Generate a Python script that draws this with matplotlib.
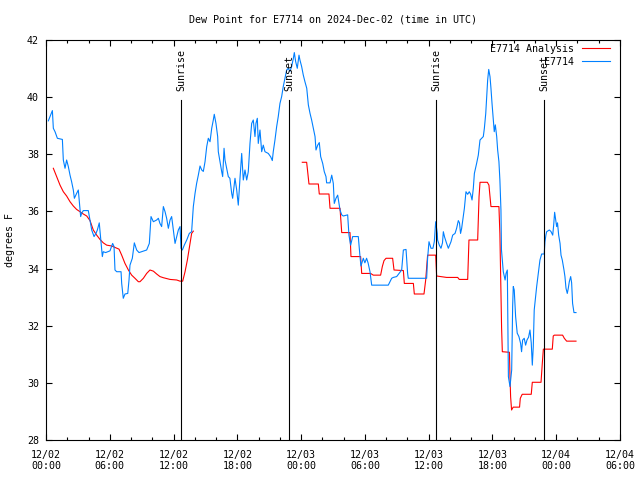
import numpy as np
import pandas as pd
import matplotlib
matplotlib.use('Agg')
import matplotlib.pyplot as plt
import matplotlib.dates as mdates

# --- Data (hours after 2024-12-02 00:00 UTC, degrees F) ---
START = pd.Timestamp('2024-12-02 00:00')

analysis_hours = [
    0.69, 1.0, 1.32, 1.63, 1.94, 2.26, 2.57, 2.88, 3.2, 3.51, 3.83, 4.14, 4.45, 4.77,
    5.08, 5.39, 5.71, 6.18, 6.49, 6.87, 7.12, 7.43, 7.75, 8.06, 8.37, 8.69, 8.84, 9.16,
    9.47, 9.78, 10.1, 10.41, 10.72, 11.04, 11.67, 12.3, 12.6, 12.86, 13.08, 13.3, 13.55,
    13.7, 13.86,
    19.0,
    24.11, 24.52, 24.6, 24.74, 25.62, 25.71, 26.62, 26.72, 27.66, 27.75, 27.82, 28.6,
    28.69, 29.6, 29.7, 30.54, 30.79, 31.48, 31.64, 31.8, 31.99, 32.61, 32.74, 33.62,
    33.71, 34.56, 34.65, 35.56, 35.72, 35.9, 36.66, 36.75, 37.69, 38.73, 38.88, 39.67,
    39.73, 39.79, 40.61, 40.74, 40.83, 41.52, 41.67, 41.77, 41.86, 42.61, 42.7, 42.86,
    42.93, 43.6, 43.65, 43.71, 43.8, 43.95, 44.55, 44.62, 44.8, 45.65, 45.75, 46.57,
    46.69, 46.79, 47.63, 47.72, 47.82, 48.6, 48.76, 48.98, 49.86,
]
analysis_values = [
    37.51, 37.22, 36.92, 36.69, 36.54, 36.34, 36.19, 36.07, 35.99, 35.91, 35.84, 35.68,
    35.35, 35.17, 35.02, 34.9, 34.82, 34.79, 34.74, 34.68, 34.47, 34.18, 33.95, 33.77,
    33.66, 33.54, 33.54, 33.66, 33.83, 33.95, 33.91, 33.81, 33.72, 33.68, 33.62, 33.6,
    33.56, 33.56, 33.89, 34.3, 34.88, 35.23, 35.31,
    np.nan,
    37.72, 37.72, 37.45, 36.96, 36.96, 36.61, 36.61, 36.11, 36.11, 35.64, 35.26, 35.26,
    34.42, 34.42, 33.83, 33.83, 33.77, 33.77, 34.07, 34.28, 34.36, 34.36, 33.95, 33.93,
    33.48, 33.48, 33.11, 33.11, 33.6, 34.47, 34.47, 33.74, 33.69, 33.69, 33.62, 33.62,
    34.3, 35.0, 35.0, 36.52, 37.02, 37.02, 36.92, 36.52, 36.17, 36.17, 35.23, 31.93,
    31.09, 31.07, 30.22, 29.51, 29.05, 29.15, 29.15, 29.46, 29.6, 29.6, 30.02, 30.02,
    30.68, 31.18, 31.18, 31.64, 31.67, 31.67, 31.56, 31.46, 31.46,
]

station_hours = [
    0.22, 0.38, 0.6, 0.69, 0.85, 1.07, 1.54, 1.63, 1.79, 1.94, 2.1, 2.26, 2.41, 2.57,
    2.67, 2.88, 3.04, 3.14, 3.26, 3.35, 3.51, 3.98, 4.14, 4.3, 4.52, 4.7, 4.83, 5.01,
    5.14, 5.3, 5.39, 5.61, 6.02, 6.27, 6.4, 6.49, 6.65, 7.06, 7.12, 7.27, 7.43, 7.69,
    7.81, 7.9, 8.12, 8.31, 8.53, 8.75, 9.47, 9.72, 9.88, 10.1, 10.41, 10.57, 10.72,
    10.88, 11.04, 11.2, 11.35, 11.51, 11.67, 11.82, 11.98, 12.14, 12.3, 12.45, 12.61,
    12.7, 12.83, 13.01, 13.24, 13.48, 13.7, 13.86, 14.02, 14.17, 14.33, 14.49, 14.65,
    14.8, 14.96, 15.12, 15.27, 15.43, 15.59, 15.74, 15.83, 15.99, 16.15, 16.21, 16.37,
    16.53, 16.62, 16.75, 16.84, 17.0, 17.15, 17.3, 17.47, 17.56, 17.78, 17.94, 18.09,
    18.25, 18.41, 18.56, 18.72, 18.88, 19.03, 19.19, 19.35, 19.5, 19.66, 19.75, 19.88,
    19.97, 20.13, 20.29, 20.44, 20.6, 20.91, 21.14, 21.29, 21.38, 21.54, 21.7, 21.85,
    22.01, 22.17, 22.32, 22.48, 22.64, 22.79, 22.95, 23.11, 23.27, 23.36, 23.49, 23.64,
    23.8, 23.89, 24.05, 24.2, 24.36, 24.53, 24.68, 24.84, 24.99, 25.15, 25.31, 25.4,
    25.56, 25.71, 25.84, 26.03, 26.18, 26.34, 26.4, 26.72, 26.88, 27.03, 27.12, 27.28,
    27.44, 27.66, 27.82, 27.97, 28.38, 28.5, 28.66, 28.85, 29.38, 29.54, 29.63, 29.85,
    30.0, 30.16, 30.3, 30.48, 30.64, 32.2, 32.52, 32.67, 32.99, 33.46, 33.62, 33.87,
    34.02, 34.08, 35.81, 35.9, 36.03, 36.22, 36.4, 36.53, 36.66, 36.81, 36.84, 37.0,
    37.16, 37.3, 37.38, 37.5, 37.69, 37.85, 38.1, 38.26, 38.48, 38.63, 38.79, 38.9,
    39.0, 39.1, 39.26, 39.36, 39.51, 39.67, 39.82, 39.95, 40.08, 40.2, 40.3, 40.51,
    40.67, 40.83, 40.99, 41.14, 41.24, 41.37, 41.46, 41.55, 41.65, 41.77, 41.86, 41.96,
    42.08, 42.17, 42.27, 42.4, 42.49, 42.61, 42.7, 42.8, 42.85, 42.93, 43.02, 43.19,
    43.28, 43.4, 43.5, 43.65, 43.81, 43.9, 43.96, 44.05, 44.18, 44.33, 44.49, 44.65,
    44.74, 44.84, 44.99, 45.12, 45.25, 45.4, 45.53, 45.65, 45.75, 45.84, 45.93, 46.06,
    46.16, 46.31, 46.47, 46.63, 46.87, 46.94, 47.03, 47.1, 47.35, 47.5, 47.67, 47.76,
    47.85, 47.95, 48.04, 48.12, 48.23, 48.36, 48.45, 48.57, 48.73, 48.82, 48.92, 49.04,
    49.13, 49.23, 49.36, 49.45, 49.54, 49.67, 49.86,
]
station_values = [
    39.17, 39.32, 39.53, 38.91, 38.79, 38.56, 38.52, 37.8, 37.51, 37.8, 37.57, 37.27,
    37.04, 36.75, 36.46, 36.63, 36.75, 36.34, 35.82, 35.93, 36.03, 36.03, 35.7, 35.35,
    35.12, 35.23, 35.35, 35.6, 35.06, 34.42, 34.59, 34.56, 34.62, 34.88, 34.77, 33.95,
    33.89, 33.89, 33.48, 32.96, 33.11, 33.13, 33.6, 34.12, 34.36, 34.9, 34.65, 34.56,
    34.65, 34.88, 35.82, 35.64, 35.7, 35.76, 35.58, 35.47, 36.17, 35.99, 35.76, 35.41,
    35.7, 35.82, 35.35, 34.88, 35.12, 35.35, 35.47, 34.71, 34.65, 34.82, 35.0, 35.23,
    35.29, 36.17, 36.63, 36.98, 37.27, 37.59, 37.45, 37.4, 37.74, 38.27, 38.56, 38.44,
    38.91, 39.2, 39.4, 39.08, 38.62, 38.09, 37.74, 37.39, 37.22, 38.21, 37.8, 37.51,
    37.22, 37.16, 36.63, 36.46, 37.16, 36.75, 36.22, 37.16, 38.03, 37.1, 37.45, 37.1,
    37.39, 38.38, 39.08, 39.2, 38.62, 39.08, 39.26, 38.38, 38.85, 38.09, 38.32, 38.09,
    38.03, 37.91, 37.78, 38.09, 38.5, 38.97, 39.32, 39.78, 40.02, 40.37, 40.66, 40.95,
    41.01, 40.9, 41.07, 41.36, 41.56, 41.24, 41.01, 41.47, 41.3, 41.07, 40.78, 40.54,
    40.31, 39.73, 39.43, 39.2, 38.91, 38.62, 38.15, 38.32, 38.41, 37.92, 37.68, 37.39,
    37.22, 37.0, 37.0, 37.27, 36.98, 36.28, 36.46, 36.57, 36.05, 35.88, 35.84, 35.88,
    35.17, 34.82, 35.12, 35.12, 34.42, 34.09, 34.36, 34.2, 34.36, 34.2, 33.89, 33.42,
    33.42, 33.66, 33.69, 33.72, 33.95, 34.65, 34.67, 33.83, 33.66, 33.66, 34.36, 34.94,
    34.71, 34.71, 34.94, 35.64, 35.23, 35.0, 34.82, 34.71, 34.9, 35.29, 35.1, 34.88,
    34.71, 34.94, 35.17, 35.23, 35.41, 35.68, 35.6, 35.23, 35.4, 35.82, 36.11, 36.69,
    36.6, 36.69, 36.6, 36.4, 36.81, 37.33, 37.68, 37.97, 38.5, 38.56, 38.62, 38.91,
    39.43, 40.02, 40.6, 40.97, 40.72, 40.31, 39.78, 39.2, 38.79, 39.03, 38.62, 38.15,
    37.74, 37.1, 36.05, 34.65, 34.3, 33.89, 33.6, 33.83, 33.95, 30.22, 29.87, 30.45,
    32.67, 33.37, 33.25, 32.32, 31.74, 31.62, 31.38, 31.09, 31.5, 31.56, 31.32, 31.5,
    31.6, 31.85, 31.4, 30.62, 31.26, 32.55, 33.02, 33.37, 33.83, 34.3, 34.51, 34.51,
    34.94, 35.17, 35.29, 35.35, 35.3, 35.17, 35.52, 35.97, 35.7, 35.47, 35.6, 35.17,
    34.88, 34.47, 34.3, 33.95, 33.72, 33.31, 33.13, 33.3, 33.54, 33.72, 33.5, 32.78,
    32.46, 32.46,
]

sun_labels = ['Sunrise', 'Sunset', 'Sunrise', 'Sunset']
sun_hours = [12.70, 22.86, 36.69, 46.85]

# --- Style ---
FONT = 'DejaVu Sans Mono'
FS = 7.2
plt.rcParams['font.family'] = FONT
plt.rcParams['font.size'] = FS


def to_time(hours):
    return START + pd.to_timedelta(np.asarray(hours, dtype=float), unit='h')


fig = plt.figure(figsize=(6.4, 4.8), dpi=100)
ax = fig.add_axes([46 / 640, 40 / 480, 574 / 640, 400 / 480])

red_line, = ax.plot(to_time(analysis_hours), analysis_values, color='#ff0000', lw=0.8)
blue_line, = ax.plot(to_time(station_hours), station_values, color='#0080ff', lw=0.8)

for label, h in zip(sun_labels, sun_hours):
    t = to_time([h])[0]
    ax.axvline(t, ymin=0, ymax=0.85, color='black', lw=0.8)
    ax.text(t, 0.872, label, transform=ax.get_xaxis_transform(), rotation=90,
            ha='center', va='bottom', fontsize=FS)

ax.set_xlim(START, START + pd.Timedelta(hours=54))
ax.set_ylim(28, 42)
ax.set_yticks(np.arange(28, 43, 2))

ax.xaxis.set_major_locator(mdates.HourLocator(byhour=[0, 6, 12, 18]))
ax.xaxis.set_minor_locator(mdates.HourLocator(interval=2))
ax.xaxis.set_major_formatter(mdates.DateFormatter('%m/%d\n%H:%M'))

ax.tick_params(which='both', direction='in', top=True, right=True, width=0.8,
               labelsize=FS, colors='black')
ax.tick_params(which='major', length=4)
ax.tick_params(which='minor', length=2)
ax.tick_params(axis='x', pad=7)
ax.tick_params(axis='y', pad=5)
for s in ax.spines.values():
    s.set_linewidth(0.8)

fig.text(333 / 640, 1 - 19 / 480, 'Dew Point for E7714 on 2024-Dec-02 (time in UTC)',
         ha='center', va='center', fontsize=FS)
fig.text(10 / 640, 0.5, 'degrees F', rotation=90, ha='center', va='center', fontsize=FS)

ax.legend([red_line, blue_line], ['E7714 Analysis', 'E7714'], loc='upper right',
          bbox_to_anchor=(564 / 574, 396 / 400), frameon=False, markerfirst=False,
          handlelength=2.8, handletextpad=0.8, labelspacing=0.3, borderpad=0,
          borderaxespad=0, fontsize=FS)

plt.savefig('out.png', dpi=100)
